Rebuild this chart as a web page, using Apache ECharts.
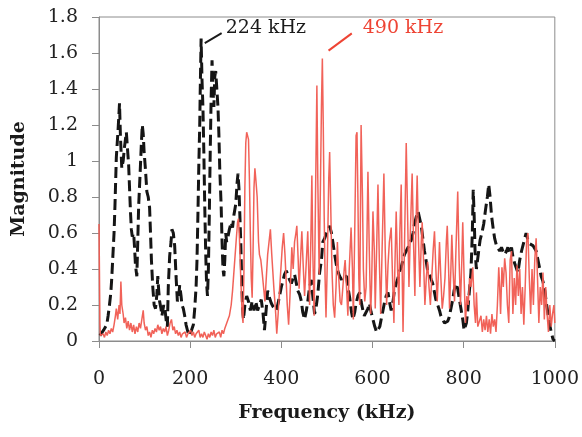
<!DOCTYPE html>
<html><head><meta charset="utf-8">
<script src="https://cdn.jsdelivr.net/npm/echarts@6/dist/echarts.min.js"></script>
<style>html,body{margin:0;padding:0;background:#fff}#c{width:582px;height:437px}</style>
</head><body><div id="c"></div>
<script>
// ---- data ----
const blackFreq = [2,6,10,14,17,20,23,26,28,30,33,35,38,40,42,45,47,50,53,56,60,63,65,67,69,71,73,76,78,80,83,85,87,90,93,95,97,99,102,105,108,111,113,115,118,121,124,127,129,131,133,136,138,142,145,148,150,152,155,158,160,163,166,169,172,175,177,180,182,185,188,191,195,199,203,207,210,213,215,217,219,221,222,224,226,228,230,232,234,236,238,240,242,244,246,248,250,252,254,256,258,261,263,265,268,270,272,274,276,278,280,283,286,290,293,296,300,303,305,307,309,311,313,315,317,320,324,328,332,336,340,344,348,352,356,360,363,366,370,374,378,382,386,389,393,396,400,404,407,411,414,418,422,426,429,433,436,440,444,447,451,455,458,462,466,469,473,477,480,484,488,491,495,499,503,506,510,513,517,521,525,528,532,535,539,543,546,550,554,557,561,564,568,572,575,579,582,586,590,593,597,601,605,609,612,616,619,623,626,630,634,637,641,645,648,652,656,660,663,667,670,674,678,681,685,689,692,696,700,703,707,710,714,718,721,725,729,732,736,739,743,747,750,754,758,761,765,768,772,776,779,783,787,790,794,798,801,803,806,809,812,816,819,821,823,825,828,832,836,840,844,848,852,855,858,861,865,868,872,875,879,883,886,890,894,897,901,905,908,912,916,919,923,927,930,934,937,941,945,948,952,956,959,963,967,970,974,978,981,985,988,992,996,1000];
const blackMag = [0.03,0.03,0.06,0.05,0.09,0.14,0.2,0.27,0.35,0.45,0.6,0.75,1.02,1.1,1.18,1.32,1.14,0.96,1.0,1.08,1.16,1.05,0.98,0.85,0.72,0.62,0.58,0.6,0.52,0.42,0.36,0.55,0.75,0.92,1.1,1.2,1.15,1.05,0.95,0.83,0.8,0.74,0.6,0.45,0.3,0.2,0.18,0.26,0.36,0.28,0.22,0.18,0.14,0.2,0.17,0.1,0.08,0.3,0.47,0.55,0.62,0.6,0.53,0.36,0.22,0.25,0.31,0.25,0.2,0.18,0.14,0.09,0.05,0.03,0.04,0.09,0.18,0.3,0.45,0.7,0.98,1.2,1.38,1.68,1.45,1.3,1.05,0.75,0.5,0.32,0.25,0.4,0.7,1.05,1.35,1.56,1.4,1.3,1.47,1.5,1.42,1.3,1.15,0.95,0.75,0.55,0.4,0.36,0.45,0.6,0.55,0.58,0.62,0.66,0.63,0.7,0.76,0.88,0.93,0.85,0.7,0.55,0.35,0.18,0.12,0.2,0.25,0.22,0.17,0.22,0.17,0.22,0.17,0.2,0.23,0.15,0.06,0.15,0.28,0.24,0.21,0.19,0.2,0.17,0.21,0.25,0.3,0.34,0.37,0.39,0.38,0.34,0.32,0.35,0.37,0.32,0.28,0.26,0.22,0.16,0.12,0.17,0.22,0.3,0.34,0.25,0.15,0.2,0.26,0.38,0.45,0.55,0.57,0.6,0.62,0.64,0.6,0.55,0.48,0.42,0.38,0.36,0.34,0.36,0.35,0.36,0.3,0.24,0.16,0.12,0.16,0.21,0.25,0.27,0.22,0.17,0.14,0.13,0.18,0.21,0.16,0.12,0.08,0.05,0.04,0.08,0.12,0.17,0.21,0.25,0.27,0.22,0.17,0.22,0.28,0.32,0.35,0.39,0.41,0.45,0.48,0.5,0.52,0.54,0.56,0.6,0.65,0.69,0.72,0.71,0.64,0.58,0.5,0.44,0.39,0.37,0.34,0.32,0.27,0.23,0.2,0.17,0.14,0.12,0.1,0.1,0.11,0.13,0.18,0.23,0.28,0.32,0.29,0.24,0.18,0.12,0.06,0.05,0.1,0.17,0.26,0.38,0.6,0.84,0.7,0.5,0.4,0.48,0.56,0.6,0.65,0.73,0.8,0.87,0.8,0.7,0.62,0.57,0.53,0.52,0.5,0.52,0.5,0.48,0.5,0.52,0.49,0.52,0.47,0.43,0.42,0.38,0.45,0.5,0.53,0.57,0.6,0.56,0.54,0.53,0.53,0.54,0.5,0.45,0.4,0.36,0.33,0.28,0.22,0.15,0.1,0.05,0.01,0.0];

const redFreq = [0,2,3,6,9,12,15,18,21,24,27,30,33,36,38,41,44,46,48,50,53,55,58,61,64,67,70,73,76,79,82,85,88,91,94,97,99,102,105,108,111,114,117,120,123,126,129,132,135,138,141,144,147,150,153,156,159,162,165,168,171,174,177,180,183,186,189,192,195,198,201,204,207,210,213,216,219,222,225,228,231,234,237,240,243,246,249,252,255,258,261,264,267,270,273,276,279,283,286,290,293,297,301,304,306,308,311,314,316,318,320,322,324,326,328,330,332,334,336,338,340,342,344,347,350,352,355,358,361,364,367,370,373,376,379,381,384,387,390,393,396,399,402,405,408,410,413,416,419,423,426,429,432,434,437,439,442,445,448,451,454,458,460,462,465,467,469,472,475,478,480,483,486,488,490,492,494,496,498,501,504,506,508,511,514,517,520,523,526,529,532,535,538,540,543,546,549,553,556,558,561,564,566,568,570,572,575,578,580,583,586,588,590,593,596,598,601,604,606,609,612,615,618,621,625,628,631,634,637,641,644,647,649,652,655,658,660,663,665,667,670,674,677,680,683,687,690,693,695,698,701,704,707,709,712,715,718,721,724,727,730,733,736,739,742,745,747,750,753,756,759,762,764,767,769,772,774,777,780,783,787,790,793,796,798,801,804,807,810,813,816,820,823,826,828,831,835,838,841,844,847,850,853,856,859,862,865,868,871,874,877,879,881,884,887,890,893,896,899,902,905,908,911,914,917,920,923,926,929,932,935,938,941,944,947,950,953,956,959,962,965,968,971,974,977,980,983,986,989,992,995,998,1000];
const redMag = [0.65,0.1,0.03,0.02,0.04,0.02,0.05,0.03,0.06,0.04,0.07,0.05,0.09,0.14,0.18,0.12,0.2,0.15,0.33,0.2,0.15,0.1,0.13,0.07,0.11,0.06,0.1,0.05,0.09,0.04,0.08,0.05,0.1,0.07,0.12,0.17,0.1,0.06,0.08,0.03,0.05,0.02,0.06,0.04,0.07,0.05,0.09,0.06,0.08,0.04,0.07,0.05,0.08,0.03,0.06,0.1,0.12,0.06,0.08,0.04,0.06,0.03,0.05,0.02,0.04,0.03,0.05,0.02,0.04,0.03,0.06,0.03,0.05,0.02,0.04,0.03,0.06,0.02,0.04,0.02,0.05,0.03,0.01,0.04,0.02,0.05,0.03,0.06,0.02,0.04,0.03,0.05,0.02,0.06,0.04,0.07,0.08,0.12,0.14,0.2,0.28,0.42,0.56,0.66,0.68,0.58,0.35,0.15,0.1,0.4,0.85,1.1,1.16,1.17,1.12,0.9,0.6,0.35,0.24,0.5,0.85,0.96,0.9,0.8,0.55,0.48,0.45,0.38,0.3,0.22,0.35,0.48,0.55,0.62,0.48,0.4,0.28,0.18,0.04,0.15,0.28,0.4,0.52,0.6,0.48,0.37,0.2,0.09,0.25,0.52,0.4,0.55,0.6,0.64,0.45,0.29,0.45,0.61,0.42,0.25,0.4,0.61,0.4,0.2,0.6,0.92,0.5,0.14,0.8,1.42,0.9,0.37,0.9,1.3,1.57,1.2,0.7,0.35,0.13,0.45,0.9,1.05,0.8,0.4,0.2,0.13,0.3,0.55,0.35,0.22,0.2,0.3,0.4,0.45,0.3,0.14,0.4,0.63,0.4,0.12,0.6,1.14,1.16,0.8,0.35,0.2,1.2,0.8,0.4,0.22,0.3,0.6,0.94,0.5,0.15,0.3,0.72,0.5,0.18,0.5,0.87,0.45,0.15,0.5,0.93,0.5,0.2,0.42,0.55,0.63,0.35,0.1,0.4,0.72,0.4,0.2,0.6,0.87,0.4,0.05,0.5,1.1,0.7,0.3,0.6,0.93,0.55,0.25,0.6,0.92,0.55,0.3,0.55,0.66,0.45,0.2,0.35,0.44,0.3,0.2,0.35,0.5,0.61,0.4,0.22,0.4,0.55,0.35,0.18,0.25,0.35,0.55,0.64,0.4,0.18,0.4,0.59,0.38,0.22,0.5,0.83,0.45,0.2,0.45,0.66,0.35,0.1,0.25,0.2,0.35,0.3,0.41,0.2,0.1,0.27,0.08,0.07,0.14,0.05,0.12,0.06,0.14,0.05,0.12,0.04,0.15,0.08,0.12,0.05,0.2,0.41,0.3,0.15,0.41,0.3,0.46,0.38,0.2,0.1,0.45,0.5,0.15,0.35,0.2,0.42,0.25,0.4,0.15,0.3,0.09,0.3,0.55,0.6,0.35,0.15,0.4,0.2,0.45,0.57,0.35,0.1,0.3,0.2,0.38,0.12,0.3,0.15,0.05,0.2,0.08,0.15,0.2,0.1];

const xTicks = {min: 0, max: 1000, step: 200};
const yTicks = {min: 0, max: 1.8, step: 0.2};
const xTitle = 'Frequency (kHz)';
const yTitle = 'Magnitude';
// annotations: [lineStartFreq, lineStartMag, lineEndFreq, lineEndMag, textFreq, textMag, text]
const note224 = [232, 1.655, 269, 1.71, 278, 1.74, '224 kHz'];
const note490 = [503.6, 1.613, 554.6, 1.709, 578.7, 1.74, '490 kHz'];

// ---- chart ----
const FONT = '"DejaVu Serif", serif';
const zip = (a, b) => a.map((v, i) => [v, b[i]]);
const chart = echarts.init(document.getElementById('c'), null, {renderer: 'canvas'});
const axisCol = '#8c8c8c';
chart.setOption({
  animation: false,
  backgroundColor: '#fff',
  grid: {left: 99, right: 26, top: 17, bottom: 96, show: true, borderColor: axisCol, borderWidth: 1, containLabel: false},
  xAxis: {
    type: 'value', min: xTicks.min, max: xTicks.max, interval: xTicks.step,
    name: xTitle, nameLocation: 'middle', nameGap: 63,
    nameTextStyle: {fontFamily: FONT, fontWeight: 'bold', fontSize: 19, color: '#1a1a1a'},
    axisLine: {show: true, lineStyle: {color: axisCol, width: 1}},
    axisTick: {show: true, inside: false, length: 7, lineStyle: {color: axisCol}},
    axisLabel: {fontFamily: FONT, fontSize: 19, color: '#222', margin: 29,
      formatter: v => String(Math.round(v))},
    splitLine: {show: false}
  },
  yAxis: {
    type: 'value', min: yTicks.min, max: yTicks.max, interval: yTicks.step,
    name: yTitle, nameLocation: 'middle', nameGap: 70, nameRotate: 90,
    nameTextStyle: {fontFamily: FONT, fontWeight: 'bold', fontSize: 19, color: '#1a1a1a'},
    axisLine: {show: true, lineStyle: {color: axisCol, width: 1}},
    axisTick: {show: true, inside: false, length: 7, lineStyle: {color: axisCol}},
    axisLabel: {fontFamily: FONT, fontSize: 19, color: '#222', margin: 21,
      formatter: v => String(Math.round(v * 10) / 10)},
    splitLine: {show: false}
  },
  series: [
    {type: 'line', data: zip(blackFreq, blackMag), showSymbol: false, symbol: 'none',
     lineStyle: {color: '#151515', width: 3, type: [11, 5]}, z: 2},
    {type: 'line', data: zip(redFreq, redMag), showSymbol: false, symbol: 'none',
     lineStyle: {color: '#f05a50', width: 1.5, opacity: 0.95}, z: 3}
  ]
});

function noteGraphics(n, color) {
  const p1 = chart.convertToPixel({gridIndex: 0}, [n[0], n[1]]);
  const p2 = chart.convertToPixel({gridIndex: 0}, [n[2], n[3]]);
  const pt = chart.convertToPixel({gridIndex: 0}, [n[4], n[5]]);
  return [
    {type: 'line', shape: {x1: p1[0], y1: p1[1], x2: p2[0], y2: p2[1]}, style: {stroke: color, lineWidth: 2}, z: 10},
    {type: 'text', x: pt[0], y: pt[1], style: {text: n[6], fill: color, font: '19px ' + FONT, textAlign: 'left', textVerticalAlign: 'middle'}, z: 10}
  ];
}
chart.setOption({graphic: [...noteGraphics(note224, '#1a1a1a'), ...noteGraphics(note490, '#ee4434')]});
</script></body></html>
